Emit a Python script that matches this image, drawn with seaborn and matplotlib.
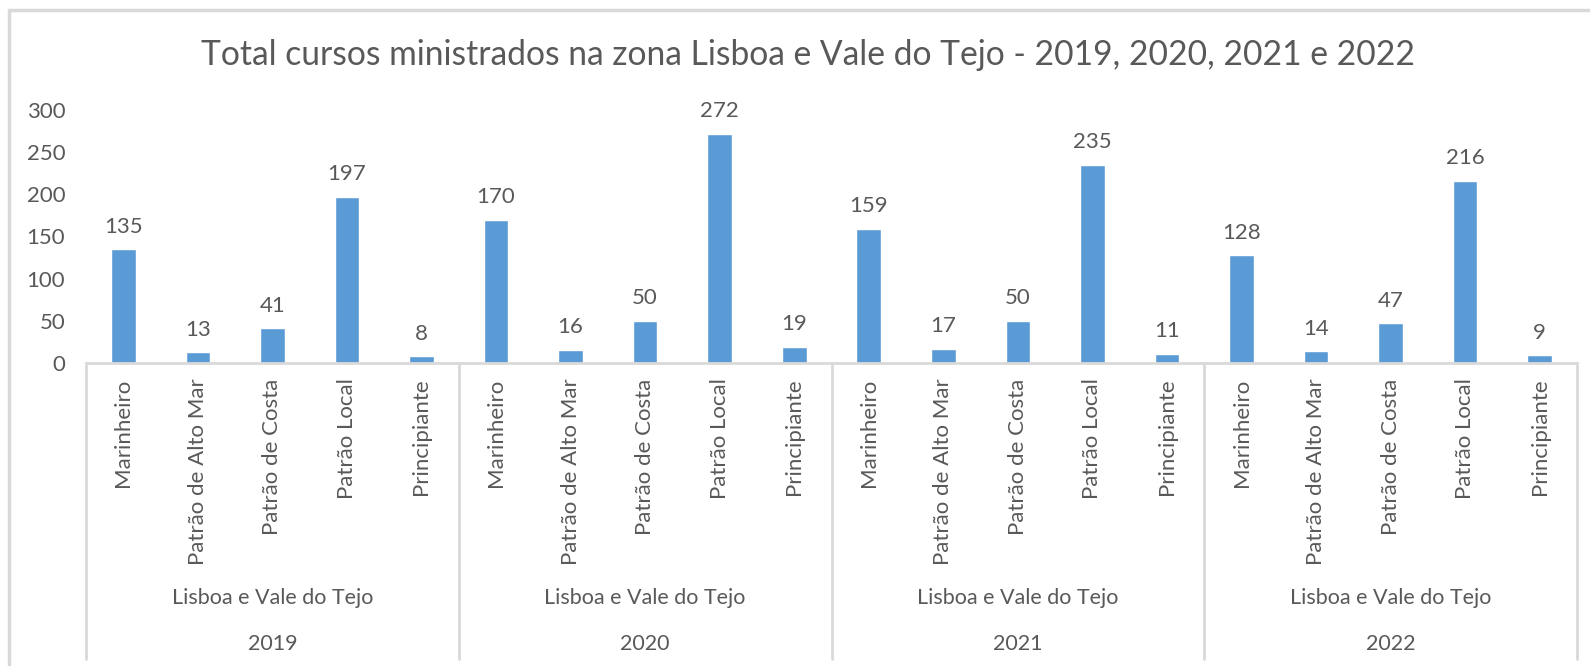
import pandas as pd
import matplotlib.pyplot as plt
import matplotlib.transforms as mtransforms
from matplotlib.lines import Line2D
import seaborn as sns

# data
years = ['2019', '2020', '2021', '2022']
region = 'Lisboa e Vale do Tejo'
courses = ['Marinheiro', 'Patrão de Alto Mar', 'Patrão de Costa', 'Patrão Local', 'Principiante']
v2019 = [135, 13, 41, 197, 8]
v2020 = [170, 16, 50, 272, 19]
v2021 = [159, 17, 50, 235, 11]
v2022 = [128, 14, 47, 216, 9]

rows = []
for y, vals in zip(years, [v2019, v2020, v2021, v2022]):
    for c, v in zip(courses, vals):
        rows.append({'key': y + ' ' + c, 'course': c, 'year': y, 'total': v})
df = pd.DataFrame(rows)

sns.set_style("white")
plt.rcParams['font.family'] = ['Lato', 'DejaVu Sans']
grey = '#595959'
line_grey = '#D9D9D9'

fig = plt.figure(figsize=(15.9, 6.66), dpi=100)
ax = fig.add_axes([86 / 1590, 1 - 363 / 666, 1491 / 1590, 253 / 666])

sns.barplot(data=df, x='key', y='total', color='#5B9BD5', width=0.33,
            saturation=1, ax=ax, errorbar=None)
ax.bar_label(ax.containers[0], padding=9, fontsize=16, color=grey)

ax.set_ylim(0, 300)
ax.set_xlim(-0.5, len(df) - 0.5)
ax.set_yticks(range(0, 301, 50))
ax.set_xticks(range(len(df)))
ax.set_xticklabels(df['course'], rotation=90, va='top')
ax.tick_params(axis='x', length=0, pad=11, labelsize=16, labelcolor=grey)
ax.tick_params(axis='y', length=0, pad=15, labelsize=16, labelcolor=grey)
for lab in ax.get_yticklabels():
    lab.set_horizontalalignment('right')
ax.set_xlabel('')
ax.set_ylabel('')
for s in ['top', 'right', 'left']:
    ax.spines[s].set_visible(False)
ax.spines['bottom'].set_color(line_grey)
ax.spines['bottom'].set_linewidth(2)

# group separators and labels
trans = mtransforms.blended_transform_factory(ax.transData, ax.transAxes)
for i in range(len(years) + 1):
    ax.plot([i * 5 - 0.5, i * 5 - 0.5], [0, -1.17], color=line_grey, lw=2,
            transform=trans, clip_on=False)
for i, y in enumerate(years):
    mid = i * 5 + 2
    ax.text(mid, -0.929, region, transform=trans, ha='center', va='center',
            fontsize=15.5, color=grey)
    ax.text(mid, -1.111, y, transform=trans, ha='center', va='center',
            fontsize=15.5, color=grey)

# chart border (top and left)
fig.add_artist(Line2D([9 / 1590, 1], [1 - 10 / 666, 1 - 10 / 666], color=line_grey, lw=2.5))
fig.add_artist(Line2D([9 / 1590, 9 / 1590], [0, 1 - 10 / 666], color=line_grey, lw=2.5))

fig.suptitle('Total cursos ministrados na zona Lisboa e Vale do Tejo - 2019, 2020, 2021 e 2022',
             x=808 / 1590, y=1 - 55 / 666, va='center', fontsize=24.2, color=grey)

plt.savefig('out.png', dpi=100)
